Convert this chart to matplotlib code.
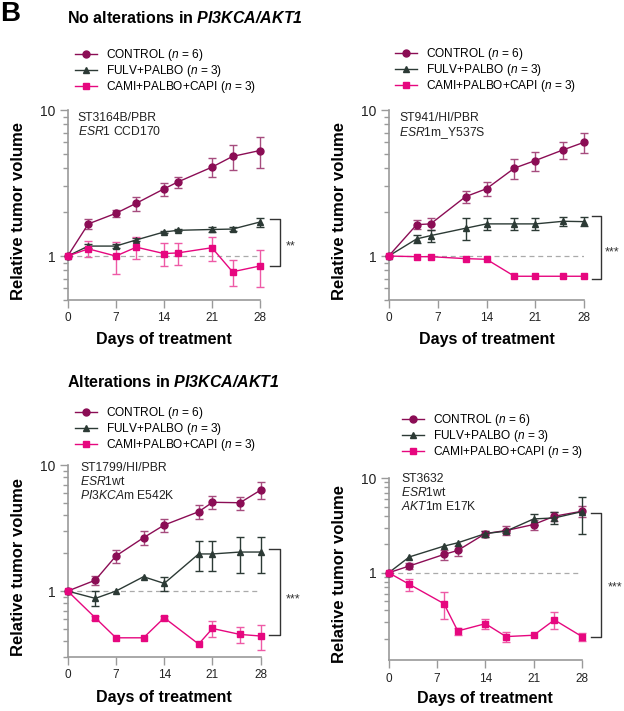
import numpy as np
import matplotlib
matplotlib.use("Agg")
import matplotlib.pyplot as plt
from matplotlib.transforms import offset_copy
from matplotlib.ticker import LogLocator, NullFormatter, FixedLocator, FixedFormatter

plt.rcParams['font.family'] = ['Liberation Sans', 'DejaVu Sans']
plt.rcParams['mathtext.fontset'] = 'custom'
plt.rcParams['mathtext.rm'] = 'Liberation Sans'
plt.rcParams['mathtext.it'] = 'Liberation Sans:italic'
plt.rcParams['mathtext.bf'] = 'Liberation Sans:bold'
plt.rcParams['mathtext.bfit'] = 'Liberation Sans:italic:bold'

# ---- data (relative tumor volume, mean and SEM) ----
series_names = ['CONTROL ($\\mathit{n}$ = 6)', 'FULV+PALBO ($\\mathit{n}$ = 3)',
                'CAMI+PALBO+CAPI ($\\mathit{n}$ = 3)']

# panel 1: ST3164B/PBR
p1_days = [0, 3, 7, 10, 14, 16, 21, 24, 28]
p1_ctrl = [1.0, 1.66, 1.96, 2.30, 2.88, 3.21, 4.06, 4.81, 5.28]
p1_ctrl_err = [0, 0.12, 0.11, 0.25, 0.30, 0.28, 0.60, 0.95, 1.30]
p1_fulv = [1.0, 1.17, 1.17, 1.29, 1.46, 1.50, 1.52, 1.53, 1.71]
p1_fulv_err = [0, 0.03, 0.03, 0.03, 0.02, 0.02, 0.06, 0.05, 0.12]
p1_cami = [1.0, 1.12, 1.0, 1.15, 1.04, 1.05, 1.14, 0.78, 0.855]
p1_cami_err = [0, 0.14, 0.25, 0.20, 0.18, 0.18, 0.21, 0.16, 0.24]
p1_bracket = [1.78, 0.855]

# panel 2: ST941/HI/PBR
p2_days = [0, 4, 6, 11, 14, 18, 21, 25, 28]
p2_ctrl = [1.0, 1.64, 1.66, 2.55, 2.89, 4.0, 4.51, 5.34, 6.02]
p2_ctrl_err = [0, 0.12, 0.15, 0.25, 0.33, 0.63, 0.68, 0.72, 0.93]
p2_fulv = [1.0, 1.31, 1.38, 1.55, 1.66, 1.66, 1.66, 1.73, 1.72]
p2_fulv_err = [0, 0.085, 0.13, 0.26, 0.16, 0.16, 0.16, 0.13, 0.12]
p2_cami = [1.0, 0.99, 0.99, 0.96, 0.95, 0.727, 0.727, 0.727, 0.727]
p2_cami_err = [0, 0, 0, 0, 0, 0, 0, 0, 0]
p2_bracket = [1.87, 0.70]

# panel 3: ST1799/HI/PBR
p3_days = [0, 4, 7, 11, 14, 19, 21, 25, 28]
p3_ctrl = [1.0, 1.22, 1.90, 2.65, 3.34, 4.26, 5.06, 5.02, 6.33]
p3_ctrl_err = [0, 0.10, 0.23, 0.32, 0.42, 0.55, 0.58, 0.60, 1.0]
p3_fulv = [1.0, 0.875, 1.0, 1.30, 1.15, 1.97, 1.97, 2.04, 2.04]
p3_fulv_err = [0, 0.12, 0, 0, 0.15, 0.52, 0.52, 0.65, 0.64]
p3_cami = [1.0, 0.614, 0.426, 0.426, 0.614, 0.38, 0.505, 0.453, 0.44]
p3_cami_err = [0, 0.02, 0, 0, 0.015, 0, 0.07, 0.068, 0.10]
p3_bracket = [2.14, 0.447]

# panel 4: ST3632
p4_days = [0, 3, 8, 10, 14, 17, 21, 24, 28]
p4_ctrl = [1.0, 1.18, 1.56, 1.72, 2.59, 2.79, 3.23, 3.95, 4.46]
p4_ctrl_err = [0, 0.09, 0.19, 0.20, 0.20, 0.30, 0.39, 0.44, 0.58]
p4_fulv = [1.0, 1.47, 1.91, 2.07, 2.59, 2.75, 3.70, 3.79, 4.42]
p4_fulv_err = [0, 0, 0, 0, 0.2, 0.1, 0.5, 0.55, 1.87]
p4_cami = [1.0, 0.754, 0.472, 0.243, 0.29, 0.212, 0.219, 0.318, 0.212]
p4_cami_err = [0, 0.115, 0.15, 0.02, 0.035, 0.025, 0.0, 0.064, 0.02]
p4_bracket = [4.28, 0.212]

panels = [
    dict(days=p1_days, ctrl=p1_ctrl, ctrl_err=p1_ctrl_err, fulv=p1_fulv, fulv_err=p1_fulv_err,
         cami=p1_cami, cami_err=p1_cami_err, bracket=p1_bracket, ymin=0.5, stars='**',
         note=['ST3164B/PBR', '$\\mathit{ESR1}$ CCD170'],
         rect=[67.7, 110, 260, 300], leg=(0.038, 1.08), note_xy=(0.052, 0.99),
         br=(1.052, 1.104, 1.135), star_y=1.23),
    dict(days=p2_days, ctrl=p2_ctrl, ctrl_err=p2_ctrl_err, fulv=p2_fulv, fulv_err=p2_fulv_err,
         cami=p2_cami, cami_err=p2_cami_err, bracket=p2_bracket, ymin=0.5, stars='***',
         note=['ST941/HI/PBR', '$\\mathit{ESR1}$m_Y537S'],
         rect=[388.7, 110, 584.3, 300], leg=(0.032, 1.085), note_xy=(0.054, 0.99),
         br=(1.04, 1.087, 1.107), star_y=1.12),
    dict(days=p3_days, ctrl=p3_ctrl, ctrl_err=p3_ctrl_err, fulv=p3_fulv, fulv_err=p3_fulv_err,
         cami=p3_cami, cami_err=p3_cami_err, bracket=p3_bracket, ymin=0.3, stars='***',
         note=['ST1799/HI/PBR', '$\\mathit{ESR1}$wt', '$\\mathit{PI3KCA}$m E542K'],
         rect=[67.7, 465, 260.7, 657], leg=(0.038, 1.064), note_xy=(0.064, 1.016),
         br=(1.045, 1.1, 1.13), star_y=0.93),
    dict(days=p4_days, ctrl=p4_ctrl, ctrl_err=p4_ctrl_err, fulv=p4_fulv, fulv_err=p4_fulv_err,
         cami=p4_cami, cami_err=p4_cami_err, bracket=p4_bracket, ymin=0.12, stars='***',
         note=['ST3632', '$\\mathit{ESR1}$wt', '$\\mathit{AKT1}$m E17K'],
         rect=[388.7, 478, 582, 660], leg=(0.068, 1.10), note_xy=(0.065, 1.027),
         br=(1.048, 1.1, 1.134), star_y=0.77),
]

W, H = 624, 711
col_ctrl, ecol_ctrl = '#8b0d55', '#a64c7e'
col_fulv, ecol_fulv = '#2c3a35', '#2c3a35'
col_cami, ecol_cami = '#e6077f', '#ee5aa6'
spine_col = '#9a9a9a'

fig = plt.figure(figsize=(W / 100, H / 100), dpi=100)

for p in panels:
    x0, y0, x1, y1 = p['rect']
    ax = fig.add_axes([x0 / W, 1 - y1 / H, (x1 - x0) / W, (y1 - y0) / H])
    ax.set_yscale('log')

    ax.plot([0, 28], [1, 1], ls=(0, (4, 3)), color='#aaaaaa', lw=0.9, zorder=1)

    specs = [
        (p['ctrl'], p['ctrl_err'], col_ctrl, ecol_ctrl, 'o', 5),
        (p['fulv'], p['fulv_err'], col_fulv, ecol_fulv, '^', 5),
        (p['cami'], p['cami_err'], col_cami, ecol_cami, 's', 4.6),
    ]
    handles = []
    for vals, err, c, ec, m, ms in specs:
        err = np.asarray(err, dtype=float)
        keep = err > 0
        eb = ax.errorbar(np.asarray(p['days'])[keep], np.asarray(vals)[keep], yerr=err[keep],
                         fmt='none', ecolor=ec, elinewidth=1.0, capsize=2.6, capthick=1.0,
                         zorder=2)
        for art in eb.lines[1] + eb.lines[2]:
            art.set_clip_on(False)
        h, = ax.plot(p['days'], vals, color=c, marker=m, ms=ms, lw=1.0, zorder=3, clip_on=False)
        handles.append(h)

    ax.set_xlim(0, 28)
    ax.set_ylim(p['ymin'], 10)
    ax.set_xticks([0, 7, 14, 21, 28])
    ax.yaxis.set_major_locator(FixedLocator([1, 10]))
    ax.yaxis.set_major_formatter(FixedFormatter(['1', '10']))
    ax.yaxis.set_minor_locator(LogLocator(base=10, subs=np.arange(2, 10)))
    ax.yaxis.set_minor_formatter(NullFormatter())

    for s in ['top', 'right']:
        ax.spines[s].set_visible(False)
    for s in ['left', 'bottom']:
        ax.spines[s].set_color(spine_col)
        ax.spines[s].set_linewidth(1.2)
    ax.tick_params(axis='both', which='both', color=spine_col, width=1.0, labelcolor='#222222')
    ax.tick_params(axis='x', length=6, labelsize=8.5, pad=3)
    ax.tick_params(axis='y', which='major', length=6, labelsize=10, pad=3)
    ax.tick_params(axis='y', which='minor', length=3.6)

    ax.set_xlabel('Days of treatment', fontsize=11.5, fontweight='bold')
    ax.set_ylabel('Relative tumor volume', fontsize=12, fontweight='bold')
    ax.xaxis.set_label_coords(0.5, -0.17)
    ax.yaxis.set_label_coords(-0.215, 0.47)

    ax.text(p['note_xy'][0], p['note_xy'][1], '\n'.join(p['note']), transform=ax.transAxes,
            fontsize=8.75, va='top', ha='left', color='#222222', linespacing=1.1)

    # significance bracket
    yt, yb = p['bracket']
    bl, bx, sx = p['br']
    tr = ax.get_yaxis_transform()
    ax.plot([bl, bx, bx, bl], [yt, yt, yb, yb], color='#333333', lw=1.0,
            transform=tr, clip_on=False)
    ax.text(sx, p['star_y'], p['stars'], fontsize=9, va='baseline', ha='left', color='#333333',
            transform=offset_copy(tr, fig=fig, y=-5, units='points'))

    ax.legend(handles, series_names, loc='lower left', bbox_to_anchor=p['leg'],
              frameon=False, fontsize=8.6, handlelength=1.84, handletextpad=0.75,
              labelspacing=0.0, borderpad=0, borderaxespad=0)

fig.text(0.0, 1 - 21 / H, 'B', fontsize=20, fontweight='bold', va='baseline', ha='left')
fig.text(67 / W, 1 - 23.3 / H, 'No alterations in $\\mathbfit{PI3KCA/AKT1}$', fontsize=11.5,
         fontweight='bold', va='baseline', ha='left')
fig.text(67 / W, 1 - 386.7 / H, 'Alterations in $\\mathbfit{PI3KCA/AKT1}$', fontsize=11.5,
         fontweight='bold', va='baseline', ha='left')

fig.savefig('out.png', dpi=100)
